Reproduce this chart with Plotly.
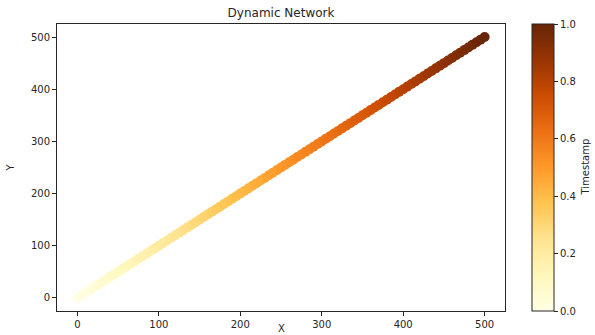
import plotly.graph_objects as go

x_vals = [0, 5, 10, 15, 20, 25, 30, 35, 40, 45, 50, 55, 60, 65, 70, 75, 80, 85, 90, 95,
          100, 105, 110, 115, 120, 125, 130, 135, 140, 145, 150, 155, 160, 165, 170, 175, 180, 185, 190, 195,
          200, 205, 210, 215, 220, 225, 230, 235, 240, 245, 250, 255, 260, 265, 270, 275, 280, 285, 290, 295,
          300, 305, 310, 315, 320, 325, 330, 335, 340, 345, 350, 355, 360, 365, 370, 375, 380, 385, 390, 395,
          400, 405, 410, 415, 420, 425, 430, 435, 440, 445, 450, 455, 460, 465, 470, 475, 480, 485, 490, 495, 500]
y_vals = [0, 5, 10, 15, 20, 25, 30, 35, 40, 45, 50, 55, 60, 65, 70, 75, 80, 85, 90, 95,
          100, 105, 110, 115, 120, 125, 130, 135, 140, 145, 150, 155, 160, 165, 170, 175, 180, 185, 190, 195,
          200, 205, 210, 215, 220, 225, 230, 235, 240, 245, 250, 255, 260, 265, 270, 275, 280, 285, 290, 295,
          300, 305, 310, 315, 320, 325, 330, 335, 340, 345, 350, 355, 360, 365, 370, 375, 380, 385, 390, 395,
          400, 405, 410, 415, 420, 425, 430, 435, 440, 445, 450, 455, 460, 465, 470, 475, 480, 485, 490, 495, 500]
timestamps = [0.00, 0.01, 0.02, 0.03, 0.04, 0.05, 0.06, 0.07, 0.08, 0.09,
              0.10, 0.11, 0.12, 0.13, 0.14, 0.15, 0.16, 0.17, 0.18, 0.19,
              0.20, 0.21, 0.22, 0.23, 0.24, 0.25, 0.26, 0.27, 0.28, 0.29,
              0.30, 0.31, 0.32, 0.33, 0.34, 0.35, 0.36, 0.37, 0.38, 0.39,
              0.40, 0.41, 0.42, 0.43, 0.44, 0.45, 0.46, 0.47, 0.48, 0.49,
              0.50, 0.51, 0.52, 0.53, 0.54, 0.55, 0.56, 0.57, 0.58, 0.59,
              0.60, 0.61, 0.62, 0.63, 0.64, 0.65, 0.66, 0.67, 0.68, 0.69,
              0.70, 0.71, 0.72, 0.73, 0.74, 0.75, 0.76, 0.77, 0.78, 0.79,
              0.80, 0.81, 0.82, 0.83, 0.84, 0.85, 0.86, 0.87, 0.88, 0.89,
              0.90, 0.91, 0.92, 0.93, 0.94, 0.95, 0.96, 0.97, 0.98, 0.99, 1.00]
axis_ticks = [0, 100, 200, 300, 400, 500]
cbar_ticks = [0.0, 0.2, 0.4, 0.6, 0.8, 1.0]

FONT = "DejaVu Sans"
TXT = "#262626"

fig = go.Figure(go.Scatter(
    x=x_vals, y=y_vals, mode="markers",
    marker=dict(
        size=10, color=timestamps, colorscale="YlOrBr", cmin=0, cmax=1,
        line=dict(width=0),
        colorbar=dict(
            x=(532 - 57) / 448, xanchor="left", xpad=0, ypad=0,
            y=0.5, yanchor="middle", len=1, lenmode="fraction",
            thickness=22, outlinewidth=1, outlinecolor=TXT,
            tickvals=cbar_ticks, ticktext=[f"{v:.1f}" for v in cbar_ticks],
            ticks="outside", ticklen=4, tickcolor=TXT,
            tickfont=dict(family=FONT, size=10, color=TXT),
        ),
    ),
    showlegend=False,
))

axis_common = dict(
    range=[-25, 525], tickvals=axis_ticks, ticks="outside", ticklen=4, tickcolor=TXT,
    showline=True, linecolor=TXT, linewidth=1, mirror=True, showgrid=False, zeroline=False,
    tickfont=dict(family=FONT, size=10, color=TXT),
)

fig.update_layout(
    width=595, height=335,
    margin=dict(l=57, r=90, t=24, b=24, autoexpand=False),
    plot_bgcolor="white", paper_bgcolor="white",
    xaxis=axis_common, yaxis=axis_common,
    title=dict(text="Dynamic Network", x=0.5, xref="paper", xanchor="center",
               y=1 - 13 / 335, yref="container", yanchor="middle",
               font=dict(family=FONT, size=12, color=TXT)),
    annotations=[
        dict(text="X", xref="paper", yref="paper", x=0.5, y=-17 / 287, xanchor="center",
             yanchor="middle", showarrow=False, font=dict(family=FONT, size=10, color=TXT)),
        dict(text="Y", xref="paper", yref="paper", x=-47 / 448, y=0.5, xanchor="center",
             yanchor="middle", textangle=-90, showarrow=False,
             font=dict(family=FONT, size=10, color=TXT)),
        dict(text="Timestamp", xref="paper", yref="paper", x=(585 - 57) / 448, y=0.5,
             xanchor="center", yanchor="middle", textangle=-90, showarrow=False,
             font=dict(family=FONT, size=10, color=TXT)),
    ],
)

fig.write_html("out.html")
